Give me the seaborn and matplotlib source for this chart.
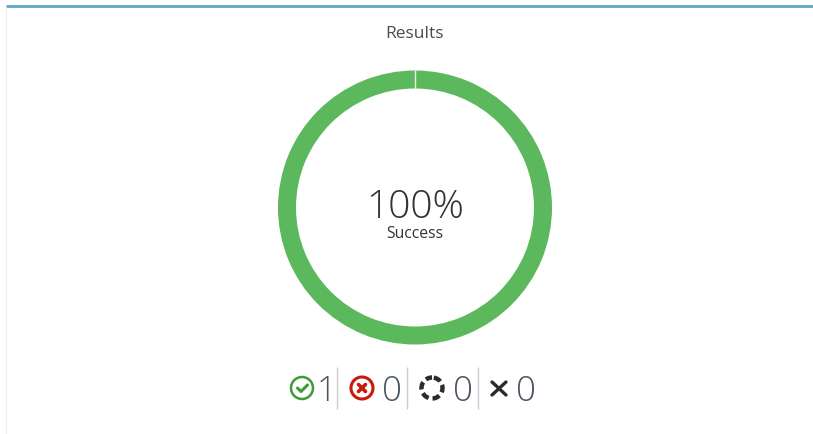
import matplotlib
matplotlib.use('Agg')
import matplotlib.pyplot as plt
import seaborn as sns
from matplotlib.patches import Circle

# chart values
title = 'Results'
center_value = '100%'
center_label = 'Success'
slice_values = [100]
slice_colors = ['#5cb85c']
status_names = ['success', 'failed', 'running', 'cancelled']
status_counts = [1, 0, 0, 0]

sns.set_theme(style='white')
plt.rcParams['font.family'] = ['Open Sans', 'DejaVu Sans']

fig = plt.figure(figsize=(8.13, 4.35), dpi=100)
ax = fig.add_axes([0, 0, 1, 1])
ax.set_xlim(0, 813)
ax.set_ylim(435, 0)
ax.axis('off')

# card border
ax.hlines(7, 6, 813, color='#5aa8cb', lw=2)
ax.vlines(6, 8, 435, color='#f0f0f0', lw=1)

ax.text(414, 34, title, ha='center', va='center', fontsize=12.5, color='#4a4a4a')

# donut
ax.pie(slice_values, colors=slice_colors, startangle=90, center=(415, 208.5), radius=137,
       wedgeprops={'width': 18, 'linewidth': 0}, frame=True)
ax.set_xlim(0, 813)
ax.set_ylim(435, 0)
ax.axis('off')
ax.vlines(415, 71, 90, color='#e8f4e8', lw=1)

ax.text(415.5, 208, center_value, ha='center', va='center', fontsize=28, color='#333333',
        fontweight='light')
ax.text(415, 234.5, center_label, ha='center', va='center', fontsize=11.3, color='#333333')

# status row
icon_x = [302, 362, 432, 499]
count_x = [327, 392, 463, 526]
sep_x = [337, 407, 478]
row_y = 389

ax.add_patch(Circle((icon_x[0], row_y), 11, fill=False, ec='#3f9c35', lw=1.8))
ax.plot([297.5, 301, 307.5], [389, 392.5, 386], color='#3f9c35', lw=2.2)

ax.add_patch(Circle((icon_x[1], row_y), 11, fill=False, ec='#c9190b', lw=2.2))
ax.plot([358.5, 365.5], [385.5, 392.5], color='#c9190b', lw=2.6)
ax.plot([358.5, 365.5], [392.5, 385.5], color='#c9190b', lw=2.6)

ax.add_patch(Circle((icon_x[2], row_y), 10.5, fill=False, ec='#2b2b2b', lw=3.2,
                    linestyle=(2.2, (1.7, 0.9))))

ax.plot([492, 506], [383, 396], color='#2b2b2b', lw=2.4)
ax.plot([492, 506], [396, 383], color='#2b2b2b', lw=2.4)

for x, n in zip(count_x, status_counts):
    ax.text(x, row_y + 2.5, str(n), ha='center', va='center', fontsize=25, color='#4a5560',
            fontweight='light')
ax.vlines(sep_x, 368, 410, color='#cccccc', lw=1)

fig.savefig('out.png', dpi=100, facecolor='white')
